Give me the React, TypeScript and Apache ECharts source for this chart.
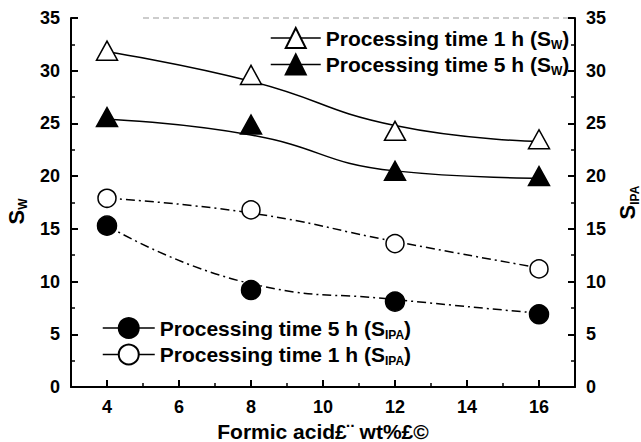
import React, { useEffect, useRef } from "react";
import * as echarts from "echarts";

const xValues = [4, 8, 12, 16];
const sw1h = [31.9, 29.6, 24.3, 23.5];
const sw5h = [25.6, 24.9, 20.5, 20.0];
const sipa1h = [17.9, 16.8, 13.6, 11.2];
const sipa5h = [15.3, 9.2, 8.1, 6.9];
const sw1hFit = [31.8, 29.0, 24.8, 23.3];
const sw5hFit = [25.4, 23.9, 20.5, 19.8];
const sipa1hFit = [17.9, 16.5, 13.8, 11.3];
const sipa5hFit = [15.3, 9.8, 8.3, 7.0];
const xMajorTicks = [4, 6, 8, 10, 12, 14, 16];
const xMinorTicks = [3, 5, 7, 9, 11, 13, 15, 17];

const names = {
  sw1: "Processing time 1 h (Sw)",
  sw5: "Processing time 5 h (Sw)",
  ip5: "Processing time 5 h (Sipa)",
  ip1: "Processing time 1 h (Sipa)",
};
const legendLabel: Record<string, string> = {
  [names.sw1]: "{a|Processing time 1 h (S}{s|W}{a|)}",
  [names.sw5]: "{a|Processing time 5 h (S}{s|W}{a|)}",
  [names.ip5]: "{a|Processing time 5 h (S}{s|IPA}{a|)}",
  [names.ip1]: "{a|Processing time 1 h (S}{s|IPA}{a|)}",
};

const pairs = (ys: number[]) => xValues.map((x, i) => [x, ys[i]]);
const FONT = "'Liberation Sans', Arial, sans-serif";
const DASHDOT = [9, 4, 2, 4];

export default function App() {
  const ref = useRef<HTMLDivElement>(null);
  useEffect(() => {
    if (!ref.current) return;
    const chart = echarts.init(ref.current, undefined, { renderer: "svg" });
    const axisLabel = { fontFamily: FONT, fontWeight: "bold", fontSize: 18, color: "#000" };
    const richText = {
      a: { fontFamily: FONT, fontWeight: "bold", fontSize: 21, color: "#000", lineHeight: 25 },
      s: { fontFamily: FONT, fontWeight: "bold", fontSize: 12, color: "#000", verticalAlign: "bottom", lineHeight: 19 },
    };
    const markerSeries = (name: string, ys: number[], symbol: string, filled: boolean, yAxisIndex: number, size: number | number[]) => ({
      type: "line",
      name,
      yAxisIndex,
      data: pairs(ys),
      symbol,
      symbolSize: size,
      showAllSymbol: true,
      lineStyle: { opacity: 0, width: 0 },
      itemStyle: { color: filled ? "#000" : "#fff", borderColor: "#000", borderWidth: 1.5 },
      z: 5,
    });
    const fitSeries = (ys: number[], dashed: boolean, yAxisIndex: number) => ({
      type: "line",
      yAxisIndex,
      data: pairs(ys),
      smooth: true,
      showSymbol: false,
      symbol: "none",
      lineStyle: { color: "#000", width: 1.5, type: dashed ? DASHDOT : "solid" },
      z: 2,
    });
    const legendBase = {
      orient: "vertical",
      itemHeight: 25,
      formatter: (n: string) => legendLabel[n],
      textStyle: { fontFamily: FONT, fontWeight: "bold", fontSize: 21, color: "#000", rich: richText },
      lineStyle: { color: "#000", width: 1.5, type: "solid", opacity: 1 },
      selectedMode: false,
    };
    const nameRich = {
      m: { fontFamily: FONT, fontWeight: "bold", fontSize: 22, color: "#000", lineHeight: 26 },
      s: { fontFamily: FONT, fontWeight: "bold", fontSize: 12, color: "#000", verticalAlign: "bottom", lineHeight: 18 },
    };
    chart.setOption({
      animation: false,
      backgroundColor: "#fff",
      grid: { left: 71, right: 66, top: 18, bottom: 55, outerBoundsMode: "none", containLabel: false },
      legend: [
        { ...legendBase, data: [names.sw1, names.sw5], left: 265, top: 22, itemGap: 3, itemWidth: 50 },
        { ...legendBase, data: [names.ip5, names.ip1], left: 97, top: 312, itemGap: 3, itemWidth: 52 },
      ],
      xAxis: [
        {
          type: "value",
          min: 3,
          max: 17,
          name: "Formic acid£¨ wt%£©",
          nameLocation: "middle",
          nameGap: 25,
          nameTextStyle: { fontFamily: FONT, fontWeight: "bold", fontSize: 21, color: "#000" },
          axisLine: { lineStyle: { color: "#000", width: 2 } },
          axisTick: { inside: true, length: 7, customValues: xMajorTicks, lineStyle: { color: "#000", width: 2 } },
          axisLabel: { ...axisLabel, margin: 11, customValues: xMajorTicks },
          splitLine: { show: false },
        },
        {
          type: "value",
          min: 3,
          max: 17,
          position: "bottom",
          axisLine: { show: false },
          axisTick: { inside: true, length: 4, customValues: xMinorTicks, lineStyle: { color: "#000", width: 1.5 } },
          axisLabel: { show: false },
          splitLine: { show: false },
        },
      ],
      yAxis: [
        {
          type: "value",
          min: 0,
          max: 35,
          interval: 5,
          name: "{m|S}{s|W}",
          nameLocation: "middle",
          nameGap: 40,
          nameRotate: 90,
          nameTextStyle: { fontFamily: FONT, fontWeight: "bold", fontSize: 22, color: "#000", rich: nameRich, padding: [0, 18, 0, 0] },
          axisLine: { show: true, lineStyle: { color: "#000", width: 2 } },
          axisTick: { inside: true, length: 7, lineStyle: { color: "#000", width: 2 } },
          minorTick: { show: true, splitNumber: 2, length: 4, lineStyle: { color: "#000", width: 1.5 } },
          axisLabel: { ...axisLabel, margin: 11 },
          splitLine: { show: false },
        },
        {
          type: "value",
          min: 0,
          max: 35,
          interval: 5,
          position: "right",
          name: "{m|S}{s|IPA}",
          nameLocation: "middle",
          nameGap: 38,
          nameRotate: 90,
          nameTextStyle: { fontFamily: FONT, fontWeight: "bold", fontSize: 22, color: "#000", rich: nameRich },
          axisLine: { show: true, lineStyle: { color: "#000", width: 2 } },
          axisTick: { inside: true, length: 7, lineStyle: { color: "#000", width: 2 } },
          minorTick: { show: true, splitNumber: 2, length: 4, lineStyle: { color: "#000", width: 1.5 } },
          axisLabel: { ...axisLabel, margin: 11 },
          splitLine: { show: false },
        },
      ],
      graphic: [
        {
          type: "line",
          shape: { x1: 143, y1: 18, x2: 575, y2: 18 },
          style: { stroke: "#999", lineWidth: 1, lineDash: [6, 4] },
          silent: true,
        },
      ],
      series: [
        markerSeries(names.sw1, sw1h, "triangle", false, 0, [21, 19]),
        markerSeries(names.sw5, sw5h, "triangle", true, 0, [21, 19]),
        markerSeries(names.ip5, sipa5h, "circle", true, 1, 19),
        markerSeries(names.ip1, sipa1h, "circle", false, 1, 18),
        fitSeries(sw1hFit, false, 0),
        fitSeries(sw5hFit, false, 0),
        fitSeries(sipa5hFit, true, 1),
        fitSeries(sipa1hFit, true, 1),
      ],
    });
    return () => chart.dispose();
  }, []);
  return <div ref={ref} style={{ width: 641, height: 442, position: "absolute", left: 0, top: 0 }} />;
}
